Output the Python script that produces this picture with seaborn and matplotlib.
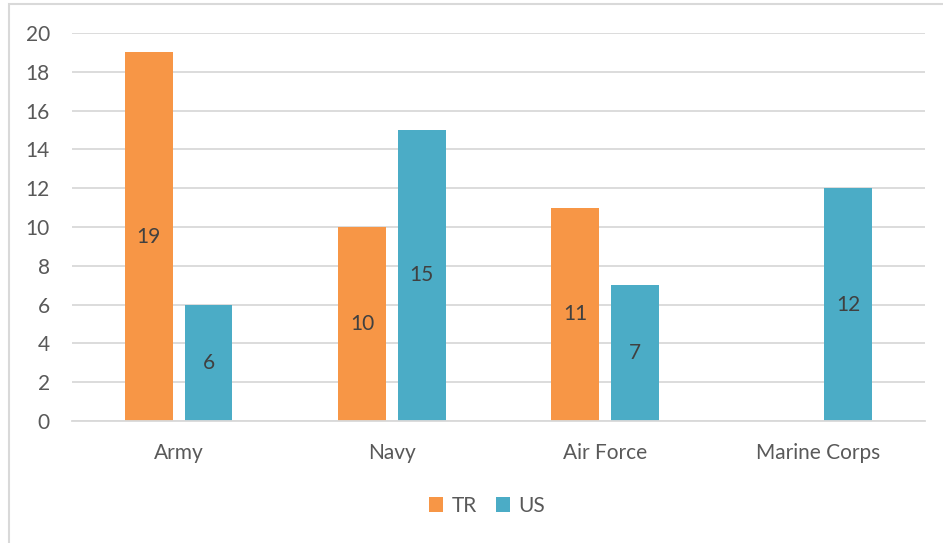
import numpy as np
import pandas as pd
import matplotlib
matplotlib.use("Agg")
import matplotlib.pyplot as plt
from matplotlib.patches import Rectangle
import seaborn as sns

branches = ["Army", "Navy", "Air Force", "Marine Corps"]
tr_values = [19, 10, 11, np.nan]
us_values = [6, 15, 7, 12]
series_names = ["TR", "US"]
y_ticks = [0, 2, 4, 6, 8, 10, 12, 14, 16, 18, 20]

colors = {"TR": "#F79646", "US": "#4BACC6"}
text_color = "#595959"
label_color = "#404040"
grid_color = "#D9D9D9"
font_size = 15

df = pd.DataFrame({
    "branch": branches * 2,
    "series": [series_names[0]] * len(branches) + [series_names[1]] * len(branches),
    "count": tr_values + us_values,
})

sns.set_theme(style="white")
plt.rcParams["font.family"] = ["Lato", "DejaVu Sans"]

fig = plt.figure(figsize=(9.43, 5.43), dpi=100)
ax = fig.add_axes([0.0764, 0.2247, 0.981 - 0.0764, 0.9392 - 0.2247])

sns.barplot(data=df, x="branch", y="count", hue="series", order=branches,
            hue_order=series_names, palette=colors, width=0.56, gap=0.2,
            saturation=1, linewidth=0, ax=ax, legend=True, errorbar=None)

# value labels centred inside each bar
for container in ax.containers:
    labels = ["" if np.isnan(v) else f"{v:g}" for v in container.datavalues]
    ax.bar_label(container, labels=labels, label_type="center",
                 fontsize=font_size, color=label_color)

ax.set_ylim(0, 20)
ax.set_yticks(y_ticks)
ax.set_xlim(-0.5, len(branches) - 0.5)
ax.yaxis.grid(True, color=grid_color, linewidth=1.3)
ax.set_axisbelow(True)
for side in ["left", "right", "top"]:
    ax.spines[side].set_visible(False)
ax.spines["bottom"].set_color(grid_color)
ax.spines["bottom"].set_linewidth(1.3)
ax.tick_params(axis="y", length=0, pad=16, labelsize=font_size, labelcolor=text_color)
ax.tick_params(axis="x", length=0, pad=16, labelsize=font_size, labelcolor=text_color)
ax.set_xlabel("")
ax.set_ylabel("")

handles, labels = ax.get_legend_handles_labels()
ax.legend_.remove()
fig.legend(handles, labels, loc="center", bbox_to_anchor=(487 / 943, 1 - 506 / 543),
           ncol=2, frameon=False, fontsize=font_size, labelcolor=text_color,
           handlelength=0.7, handleheight=0.7, handletextpad=0.4,
           columnspacing=0.9)

# chart-area border
fig.patches.append(Rectangle((8.5 / 943, -0.1), 1.2, 1 - 3.5 / 543 + 0.1,
                             transform=fig.transFigure, fill=False,
                             edgecolor=grid_color, linewidth=1.5))

fig.savefig("out.png", dpi=100, facecolor="white")
